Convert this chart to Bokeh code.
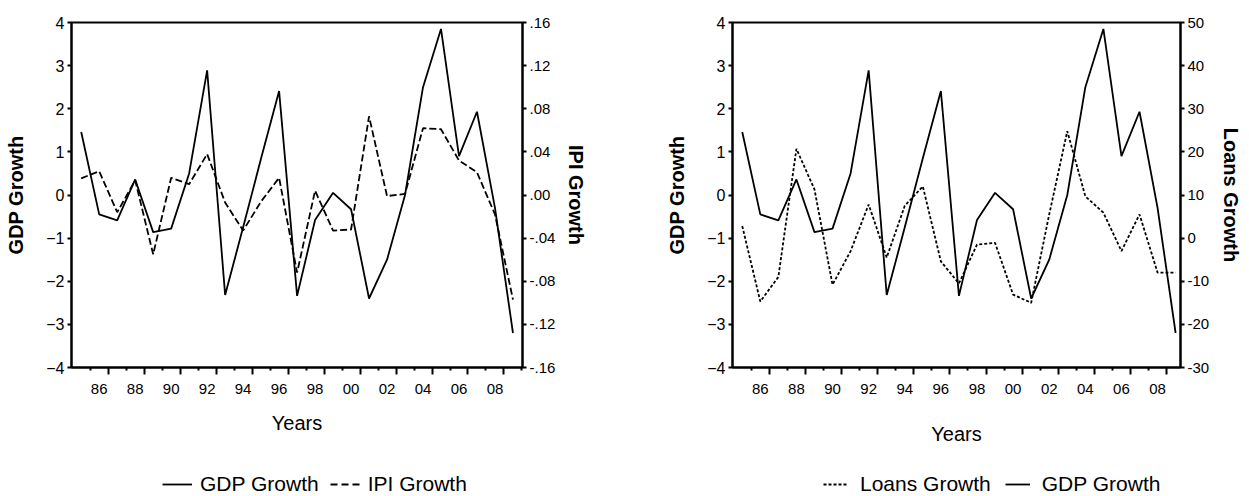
from bokeh.plotting import figure
from bokeh.models import Range1d, LinearAxis, FixedTicker, Legend, LegendItem
from bokeh.layouts import row, column
from bokeh.embed import file_html
from bokeh.resources import INLINE

# ---------------- data ----------------
years = list(range(1985, 2010))
gdp_growth = [1.46, -0.45, -0.59, 0.36, -0.86, -0.78, 0.50, 2.89, -2.32, -0.75,
              0.85, 2.41, -2.34, -0.58, 0.05, -0.33, -2.40, -1.50, 0.00, 2.50,
              3.85, 0.90, 1.93, -0.30, -3.20]
ipi_growth = [0.0155, 0.022, -0.016, 0.0136, -0.055, 0.016, 0.010, 0.038, -0.007, -0.033,
              -0.006, 0.016, -0.072, 0.004, -0.033, -0.032, 0.073, -0.001, 0.001, 0.062,
              0.061, 0.032, 0.021, -0.018, -0.097]
loans_growth = [2.8, -14.7, -9.0, 20.7, 11.3, -10.8, -3.0, 7.8, -4.5, 7.5,
                12.0, -5.4, -10.5, -1.5, -1.1, -13.1, -15.0, 5.5, 24.8, 9.7,
                5.9, -3.0, 5.5, -8.0, -8.0]

gdp_ticks = [-4, -3, -2, -1, 0, 1, 2, 3, 4]
ipi_ticks = [-0.16, -0.12, -0.08, -0.04, 0.0, 0.04, 0.08, 0.12, 0.16]
ipi_tick_labels = ["-.16", "-.12", "-.08", "-.04", ".00", ".04", ".08", ".12", ".16"]
loans_ticks = [-30, -20, -10, 0, 10, 20, 30, 40, 50]
loans_tick_labels = ["-30", "-20", "-10", "0", "10", "20", "30", "40", "50"]
year_label_ticks = [1986, 1988, 1990, 1992, 1994, 1996, 1998, 2000, 2002, 2004, 2006, 2008]
year_tick_labels = ["86", "88", "90", "92", "94", "96", "98", "00", "02", "04", "06", "08"]

SANS = "Liberation Sans"
LW = 1.8
CHART_H = 460
LEG_H = 36


def style_y(ax, size):
    ax.axis_line_width = 2
    ax.major_tick_line_width = 2
    ax.major_tick_in = 0
    ax.major_tick_out = 4
    ax.minor_tick_line_color = None
    ax.major_label_text_font = SANS
    ax.major_label_text_font_size = size
    ax.major_label_text_color = "black"
    ax.major_label_standoff = 3
    ax.axis_label_text_font = SANS
    ax.axis_label_text_font_style = "bold"
    ax.axis_label_text_font_size = "20px"
    ax.axis_label_text_color = "black"


def add_x_axes(p, title_standoff):
    # axis carrying the tick marks between observations
    axA = LinearAxis(ticker=FixedTicker(ticks=[y + 0.5 for y in year_label_ticks],
                                        minor_ticks=[y - 0.5 for y in year_label_ticks] + [2009.5]))
    axA.axis_line_width = 2
    axA.major_tick_line_width = 2
    axA.minor_tick_line_width = 2
    axA.major_tick_in = 0
    axA.major_tick_out = 7
    axA.minor_tick_in = 0
    axA.minor_tick_out = 3
    axA.major_label_overrides = {y + 0.5: "" for y in year_label_ticks}
    axA.major_label_text_font_size = "1px"
    axA.major_label_standoff = 0
    p.add_layout(axA, "below")
    # axis carrying the year labels centred on observations
    axB = LinearAxis(ticker=FixedTicker(ticks=year_label_ticks, minor_ticks=[]),
                     axis_label="Years")
    axB.axis_line_color = None
    axB.major_tick_line_color = None
    axB.major_tick_in = 0
    axB.major_tick_out = 0
    axB.major_label_overrides = dict(zip(year_label_ticks, year_tick_labels))
    axB.major_label_text_font = SANS
    axB.major_label_text_font_size = "15px"
    axB.major_label_text_color = "black"
    axB.major_label_standoff = 9
    axB.axis_label_text_font = SANS
    axB.axis_label_text_font_style = "normal"
    axB.axis_label_text_font_size = "20px"
    axB.axis_label_text_color = "black"
    axB.axis_label_standoff = title_standoff
    p.add_layout(axB, "below")


def base_fig(frame_w, x_end, bl, br):
    p = figure(frame_width=frame_w, frame_height=345, output_backend="svg",
               toolbar_location=None,
               x_range=Range1d(1984.46, x_end), y_range=Range1d(-4, 4),
               x_axis_location=None, min_border_left=bl, min_border_right=br,
               min_border_top=22, min_border_bottom=CHART_H - 22 - 345)
    p.xgrid.visible = False
    p.ygrid.visible = False
    p.outline_line_color = "black"
    p.outline_line_width = 2
    p.background_fill_color = "white"
    p.border_fill_color = "white"
    p.yaxis.ticker = FixedTicker(ticks=gdp_ticks, minor_ticks=[])
    p.yaxis.axis_label = "GDP Growth"
    style_y(p.yaxis[0], "16px")
    p.yaxis.axis_label_standoff = 16
    return p


def legend_fig(frame_w, bl, br, specs, x0, gw, standoff, spacing):
    # legend strip below a chart; its series are drawn outside the visible range,
    # only the legend samples and labels show
    lf = figure(frame_width=frame_w, frame_height=LEG_H, output_backend="svg",
                toolbar_location=None,
                x_range=Range1d(0, 1), y_range=Range1d(0, 1),
                x_axis_location=None, y_axis_location=None,
                min_border_left=bl, min_border_right=br,
                min_border_top=0, min_border_bottom=0, outline_line_color=None)
    lf.xgrid.visible = False
    lf.ygrid.visible = False
    items = []
    for label, series, dash in specs:
        r = lf.line(years, series, line_color="black", line_width=LW, line_dash=dash)
        items.append(LegendItem(label=label, renderers=[r]))
    lf.add_layout(Legend(items=items, orientation="horizontal", location=(x0, 0),
                         label_text_font=SANS, label_text_font_size="21px",
                         label_text_color="black", label_height=24, glyph_height=24,
                         glyph_width=gw, label_standoff=standoff, spacing=spacing,
                         padding=0, margin=0, border_line_color=None,
                         background_fill_alpha=0))
    return lf


# ---------------- left chart ----------------
p1 = base_fig(451, 2009.53, 71, 86)
p1.extra_y_ranges = {"ipi": Range1d(-0.16, 0.16)}
ax_r1 = LinearAxis(y_range_name="ipi", axis_label="IPI Growth",
                   ticker=FixedTicker(ticks=ipi_ticks, minor_ticks=[]))
ax_r1.major_label_overrides = dict(zip(ipi_ticks, ipi_tick_labels))
style_y(ax_r1, "15px")
ax_r1.axis_label_standoff = 7
p1.add_layout(ax_r1, "right")
add_x_axes(p1, 15)
p1.line(years, gdp_growth, line_color="black", line_width=LW)
p1.line(years, ipi_growth, line_color="black", line_width=LW,
        line_dash="7 3", y_range_name="ipi")
l1 = legend_fig(451, 71, 86,
                [("GDP Growth", gdp_growth, "solid"), ("IPI Growth", ipi_growth, "7 4")],
                91, 30, 8, 11)

# ---------------- right chart ----------------
p2 = base_fig(448, 2009.27, 124, 64)
p2.extra_y_ranges = {"loans": Range1d(-30, 50)}
ax_r2 = LinearAxis(y_range_name="loans", axis_label="Loans Growth",
                   ticker=FixedTicker(ticks=loans_ticks, minor_ticks=[]))
ax_r2.major_label_overrides = dict(zip(loans_ticks, loans_tick_labels))
style_y(ax_r2, "15px")
ax_r2.axis_label_standoff = 8
p2.add_layout(ax_r2, "right")
add_x_axes(p2, 26)
p2.line(years, loans_growth, line_color="black", line_width=LW,
        line_dash="3 2", y_range_name="loans")
p2.line(years, gdp_growth, line_color="black", line_width=LW)
l2 = legend_fig(448, 124, 64,
                [("Loans Growth", loans_growth, "3 2"), ("GDP Growth", gdp_growth, "solid")],
                91, 25, 12, 14)

layout = row(column(p1, l1), column(p2, l2))
open("out.html", "w").write(file_html(layout, INLINE))
